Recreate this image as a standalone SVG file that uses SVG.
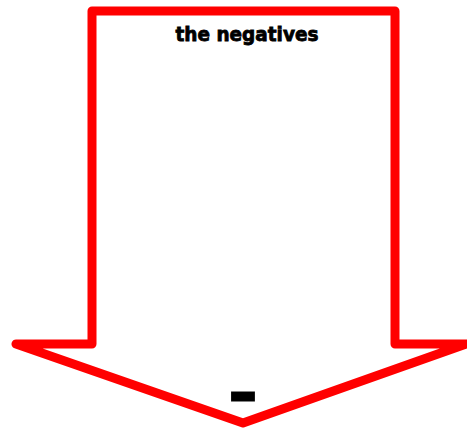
<svg xmlns="http://www.w3.org/2000/svg" width="467" height="429" viewBox="0 0 467 429">
<style>
.arrow{fill:#fff;stroke:#ff0000;stroke-width:9;stroke-linejoin:round}
.t{font-family:"DejaVu Sans",sans-serif;font-weight:bold;fill:#000}
</style>
<rect width="467" height="429" fill="#fff"/>
<g id="arrow">
<path class="arrow" d="M92,11 L395,11 L395,344 L466,344 L243,423 L16,344 L92,344 Z"/>
</g>
<g id="title">
<text class="t" x="247" y="41" font-size="19" text-anchor="middle" textLength="143" lengthAdjust="spacingAndGlyphs" stroke="#000" stroke-width="0.8">the negatives</text>
</g>
<g id="minus">
<text class="t" x="243" y="411" font-size="50" text-anchor="middle" textLength="27" lengthAdjust="spacingAndGlyphs" stroke="#000" stroke-width="3">-</text>
</g>
</svg>
